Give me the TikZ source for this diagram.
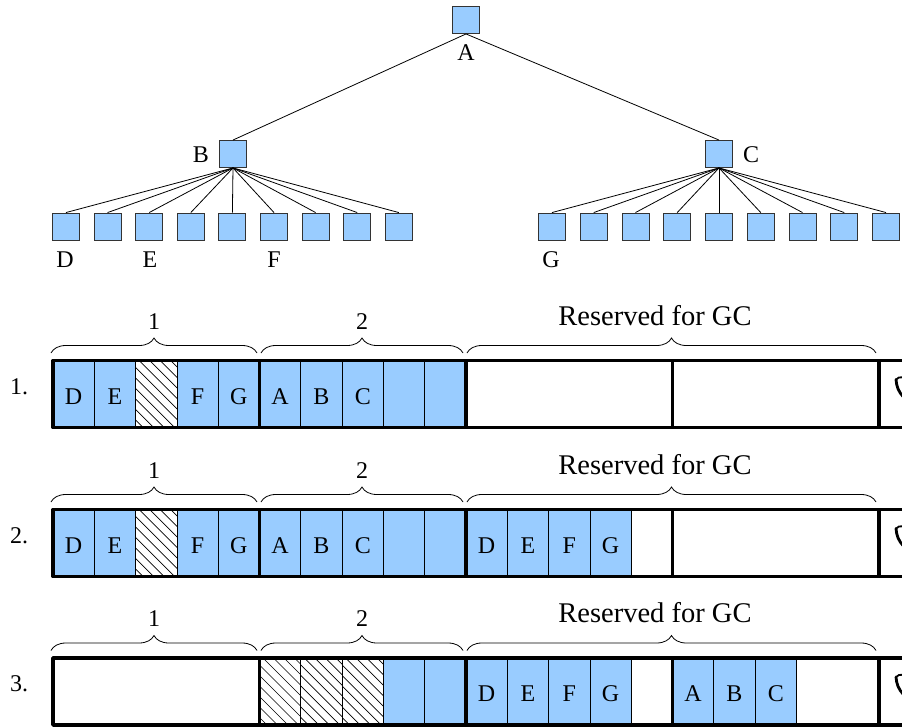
\documentclass[tikz,border=0pt]{standalone}
\usepackage{fontspec}
\setmainfont{Liberation Serif}
\usetikzlibrary{decorations.pathreplacing}

\definecolor{cellblue}{HTML}{99CCFF}
\definecolor{boxedge}{HTML}{333333}

% memory layout: first block divider and cell width
\newcommand{\memx}{53}
\newcommand{\cw}{41.3}
\newcommand{\rh}{67}

\begin{document}
\begin{tikzpicture}[x=1pt,y=-1pt,
  treebox/.style={draw=boxedge, fill=cellblue, minimum size=27pt, inner sep=0pt, line width=0.9pt},
  lbl/.style={font=\fontsize{24}{28}\selectfont, inner sep=0pt},
  biglbl/.style={font=\fontsize{28.5}{33}\selectfont, inner sep=0pt},
  edge/.style={line width=0.8pt},
  bracetop/.style={decorate, decoration={brace, amplitude=15pt}, line width=0.8pt},
  cellline/.style={line width=0.8pt},
  heavy/.style={line width=3.6pt, line join=round},
]
\clip (0,0) rectangle (902,728);

% ---------------- tree ----------------
\node[treebox] (A) at (466,20) {};
\node[treebox] (B) at (233,154) {};
\node[treebox] (C) at (719,154) {};
\foreach \i in {1,...,9} {
  \node[treebox] (b\i) at ({66+41.6*(\i-1)},226.5) {};
  \node[treebox] (c\i) at ({552+41.75*(\i-1)},226.5) {};
  \draw[edge] (B.south) -- (b\i.north);
  \draw[edge] (C.south) -- (c\i.north);
}
\draw[edge] (A.south) -- (B.north);
\draw[edge] (A.south) -- (C.north);

\node[lbl, anchor=base] (tA) at (466,60) {A};
\node[lbl, anchor=base] (tB) at (201,162) {B};
\node[lbl, anchor=base] (tC) at (751,162) {C};
\node[lbl, anchor=base] (tD) at (65,267) {D};
\node[lbl, anchor=base] (tE) at (150,267) {E};
\node[lbl, anchor=base] (tF) at (274,267) {F};
\node[lbl, anchor=base] (tG) at (551,267) {G};

% ---------------- memory rows ----------------
% \yt = top edge of the row, \rn = row number
\foreach \yt/\rn/\blue/\hatch in {
   360.5/1/{0/D,1/E,3/F,4/G,5/A,6/B,7/C,8/,9/}/{2},
   509.5/2/{0/D,1/E,3/F,4/G,5/A,6/B,7/C,8/,9/,10/D,11/E,12/F,13/G}/{2},
   658/3/{8/,9/,10/D,11/E,12/F,13/G,15/A,16/B,17/C}/{5,6,7}} {
  % filled cells
  \foreach \i/\t in \blue {
    \filldraw[fill=cellblue, draw=black, cellline]
      ({\memx+\cw*\i},\yt) rectangle ++(\cw,\rh);
    \node[lbl, anchor=base] (m\rn-\i) at ({\memx+\cw*\i+\cw/2},\yt+43.5) {\t};
  }
  % freed cells
  \foreach \i in \hatch {
    \begin{scope}
      \clip ({\memx+\cw*\i},\yt) rectangle ++(\cw,\rh);
      \foreach \d in {-70,-59.5,...,45}
        \draw[line width=0.65pt] ({\memx+\cw*\i+\d},\yt) -- ++(75,75);
    \end{scope}
    \draw[cellline] ({\memx+\cw*\i},\yt) rectangle ++(\cw,\rh);
  }
  % outline and block dividers
  \draw[heavy] (930,\yt) -- (\memx,\yt) -- (\memx,\yt+\rh) -- (930,\yt+\rh);
  \foreach \k in {1,2,3,4}
    \draw[heavy] ({\memx+5*\cw*\k},\yt) -- ++(0,\rh);
  % next region, cut by the edge
  \draw[line width=2.8pt, line cap=round]
    (896,\yt+19) .. controls (896.5,\yt+26) and (898.5,\yt+31) .. (903,\yt+36);
  \draw[line width=1.8pt] (896,\yt+19) .. controls (897,\yt+17) and (900,\yt+16.5) .. (904,\yt+17);
  % braces and their labels
  \draw[bracetop] (51,\yt-7.5) -- (257,\yt-7.5);
  \draw[bracetop] (261,\yt-7.5) -- (463,\yt-7.5);
  \draw[bracetop] (467,\yt-7.5) -- (876,\yt-7.5);
  \node[lbl, anchor=base] (one\rn) at (154,\yt-31.5) {1};
  \node[lbl, anchor=base] (two\rn) at (362,\yt-31.5) {2};
  \node[biglbl, anchor=base] (gc\rn) at (655,\yt-35.5) {Reserved for GC};
  \node[lbl, anchor=base west] (row\rn) at (10,\yt+33.5) {\rn.};
}
\end{tikzpicture}
\end{document}
